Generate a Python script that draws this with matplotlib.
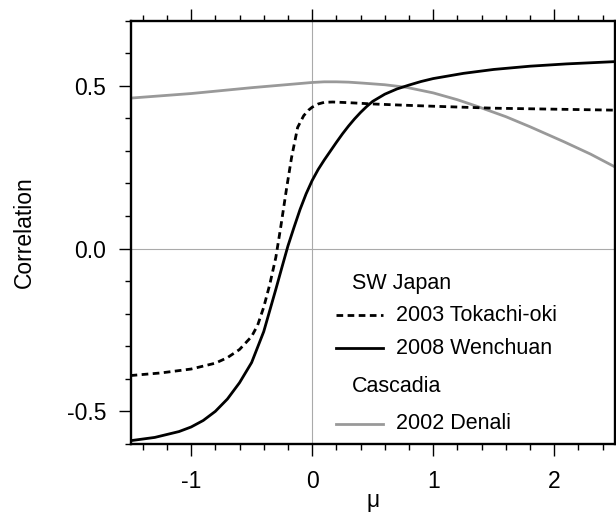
import numpy as np
import matplotlib
matplotlib.use("Agg")
import matplotlib.pyplot as plt
from matplotlib.ticker import MultipleLocator

plt.rcParams['font.family'] = ['Liberation Sans', 'DejaVu Sans']

# friction parameter mu vs correlation
mu_wenchuan = [-1.5, -1.3, -1.1, -1.0, -0.9, -0.8, -0.7, -0.6, -0.5, -0.4, -0.3, -0.25, -0.2,
               -0.15, -0.1, -0.05, 0.0, 0.05, 0.1, 0.15, 0.2, 0.25, 0.3, 0.35, 0.4, 0.45, 0.5,
               0.6, 0.7, 0.8, 0.9, 1.0, 1.25, 1.5, 1.8, 2.1, 2.5]
corr_wenchuan = [-0.590, -0.580, -0.562, -0.548, -0.528, -0.500, -0.462, -0.412, -0.350, -0.255,
                 -0.125, -0.058, 0.008, 0.065, 0.120, 0.168, 0.209, 0.243, 0.272, 0.299, 0.326,
                 0.352, 0.376, 0.398, 0.418, 0.436, 0.452, 0.474, 0.490, 0.502, 0.513, 0.522,
                 0.538, 0.550, 0.560, 0.567, 0.574]

mu_tokachi = [-1.5, -1.25, -1.0, -0.8, -0.7, -0.6, -0.5, -0.45, -0.4, -0.35, -0.3, -0.26, -0.21,
              -0.17, -0.12, -0.07, -0.03, 0.0, 0.05, 0.1, 0.17, 0.3, 0.5, 0.7, 1.0, 1.25, 1.5,
              2.0, 2.5]
corr_tokachi = [-0.390, -0.382, -0.370, -0.352, -0.335, -0.310, -0.270, -0.235, -0.180, -0.110,
                -0.027, 0.065, 0.188, 0.280, 0.372, 0.408, 0.425, 0.434, 0.444, 0.449, 0.450,
                0.448, 0.444, 0.441, 0.437, 0.434, 0.431, 0.428, 0.425]

mu_denali = [-1.5, -1.0, -0.5, 0.0, 0.1, 0.2, 0.3, 0.42, 0.6, 0.78, 1.0, 1.2, 1.36, 1.6, 1.8,
             2.08, 2.3, 2.5]
corr_denali = [0.462, 0.476, 0.494, 0.510, 0.512, 0.512, 0.511, 0.508, 0.503, 0.495, 0.478,
               0.457, 0.437, 0.405, 0.374, 0.328, 0.290, 0.251]

legend_rows = [
    ("SW Japan", None, 0.380),
    ("2003 Tokachi-oki", "tokachi", 0.304),
    ("2008 Wenchuan", "wenchuan", 0.226),
    ("Cascadia", None, 0.136),
    ("2002 Denali", "denali", 0.048),
]

styles = {
    "tokachi": dict(color="black", lw=2.0, linestyle=(0, (2.4, 1.6))),
    "wenchuan": dict(color="black", lw=2.0),
    "denali": dict(color="#999999", lw=2.0),
}

fig = plt.figure(figsize=(6.16, 5.15), dpi=100)
ax = fig.add_axes([0.212, 0.138, 0.786, 0.822])

ax.axhline(0, color="#aaaaaa", lw=0.8, zorder=1)
ax.axvline(0, color="#aaaaaa", lw=0.8, zorder=1)

ax.plot(mu_denali, corr_denali, **styles["denali"], zorder=2)
ax.plot(mu_tokachi, corr_tokachi, **styles["tokachi"], zorder=3)
ax.plot(mu_wenchuan, corr_wenchuan, **styles["wenchuan"], zorder=3)

ax.set_xlim(-1.5, 2.5)
ax.set_ylim(-0.6, 0.7)

ax.xaxis.set_major_locator(MultipleLocator(1))
ax.xaxis.set_minor_locator(MultipleLocator(0.2))
ax.yaxis.set_major_locator(MultipleLocator(0.5))
ax.yaxis.set_minor_locator(MultipleLocator(0.1))
ax.yaxis.set_major_formatter(plt.FuncFormatter(lambda v, p: f"{v:.1f}"))
ax.xaxis.set_major_formatter(plt.FuncFormatter(lambda v, p: f"{v:.0f}"))

ax.tick_params(which="both", direction="out", top=True, right=False, labelsize=16.5,
               width=1.0, color="black")
ax.tick_params(which="major", length=8.6)
ax.tick_params(axis="x", which="major", pad=10)
ax.tick_params(axis="y", which="major", pad=9)
ax.tick_params(which="minor", length=4.6)

for s in ax.spines.values():
    s.set_linewidth(1.7)

ax.set_xlabel("\u03bc", fontsize=16.5, labelpad=-3)
ax.set_ylabel("Correlation", fontsize=16.5, labelpad=22)

# legend drawn by hand, in axes coordinates
for label, key, y in legend_rows:
    if key is None:
        ax.text(0.458, y, label, transform=ax.transAxes, fontsize=15.5, va="center")
    else:
        ax.plot([0.425, 0.522], [y, y], transform=ax.transAxes, **styles[key])
        ax.text(0.549, y, label, transform=ax.transAxes, fontsize=15.5, va="center")

fig.savefig("out.png", dpi=100)
